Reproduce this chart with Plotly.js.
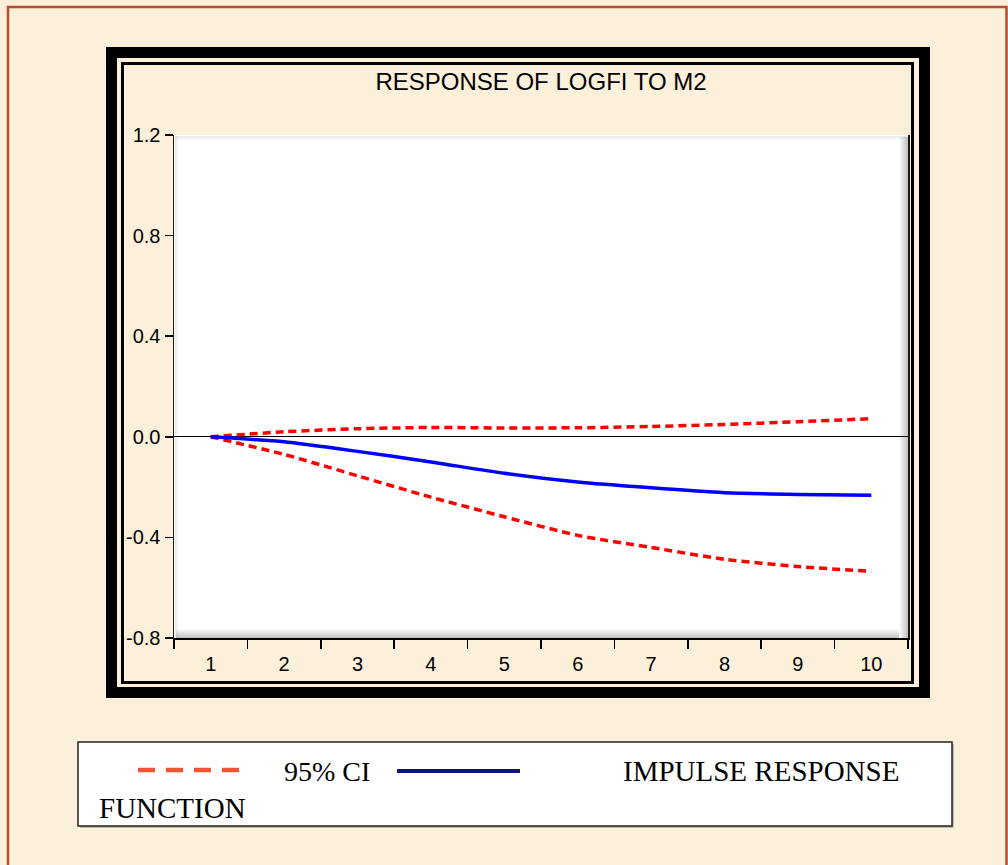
<!DOCTYPE html>
<html>
<head>
<meta charset="utf-8">
<script src="https://cdn.plot.ly/plotly-3.0.1.min.js"></script>
<style>
html,body{margin:0;padding:0;background:#FCF0DB;}
#chart{width:1008px;height:865px;}
</style>
</head>
<body>
<div id="chart"></div>
<script>
// ---- data ----
var periods = ["1","2","3","4","5","6","7","8","9","10"];
var impulseResponse = [0.0, -0.02, -0.058, -0.10, -0.145, -0.18, -0.203, -0.222, -0.229, -0.232];
var upperCI = [0.0, 0.02, 0.032, 0.037, 0.035, 0.036, 0.041, 0.049, 0.06, 0.072];
var lowerCI = [0.0, -0.07, -0.155, -0.24, -0.318, -0.392, -0.44, -0.487, -0.516, -0.535];
var yTickVals = [-0.8, -0.4, 0.0, 0.4, 0.8, 1.2];
var yTickText = ["-0.8", "-0.4", "0.0", "0.4", "0.8", "1.2"];
var chartTitle = "RESPONSE OF LOGFI TO M2";
var legendCI = "95% CI";
var legendIRF1 = "IMPULSE RESPONSE";
var legendIRF2 = "FUNCTION";

// ---- layout geometry (pixels) ----
var W = 1008, H = 865;
var L = 174, R = 908, T = 135, B = 638;
function xp(px){ return (px - L) / (R - L); }
function yp(py){ return (B - py) / (B - T); }

var traces = [
  {x: periods, y: upperCI, type: 'scatter', mode: 'lines', line: {color: '#FF0000', width: 3.5, dash: '8px,5px', shape: 'spline', smoothing: 0.6}, hoverinfo: 'skip'},
  {x: periods, y: lowerCI, type: 'scatter', mode: 'lines', line: {color: '#FF0000', width: 3.5, dash: '8px,5px', shape: 'spline', smoothing: 0.6}, hoverinfo: 'skip'},
  {x: periods, y: impulseResponse, type: 'scatter', mode: 'lines', line: {color: '#0000FF', width: 3.5, shape: 'spline', smoothing: 0.6}, hoverinfo: 'skip'}
];

var shapes = [];
function rect(x0,y0,x1,y1,opts){
  var s = {type:'rect', xref:'paper', yref:'paper', x0:xp(x0), x1:xp(x1), y0:yp(y0), y1:yp(y1), layer: opts.layer||'below',
    line:{width: opts.lw===undefined?0:opts.lw, color: opts.lc||'rgba(0,0,0,0)'}, fillcolor: opts.fill||'rgba(0,0,0,0)'};
  shapes.push(s);
}
function line(x0,y0,x1,y1,opts){
  shapes.push({type:'line', xref:'paper', yref:'paper', x0:xp(x0), x1:xp(x1), y0:yp(y0), y1:yp(y1), layer: opts.layer||'above',
    line:{width: opts.lw, color: opts.lc, dash: opts.dash||'solid'}});
}
// outer brown border
rect(8, 7, 1006.5, 880, {lw: 2.5, lc: '#B84A2E'});
// thick black frame
rect(111.5, 52.5, 924.5, 692.5, {lw: 11, lc: '#000000'});
// thin inner frame line
rect(122.5, 63.5, 912.5, 682.5, {lw: 3, lc: '#000000'});
// plot-area shadow (right & bottom)
for (var i = 0; i < 9; i++) {
  var a = 0.025 + 0.035 * i;
  rect(899 + i, 137, 900 + i, 638, {fill: 'rgba(60,60,60,' + a.toFixed(3) + ')'});
  rect(176, 629 + i, 899, 630 + i, {fill: 'rgba(60,60,60,' + a.toFixed(3) + ')'});
}
for (var j = 0; j < 4; j++) {
  var b = 0.10 - 0.025 * j;
  rect(175, 136 + j, 908, 137 + j, {fill: 'rgba(60,60,60,' + b.toFixed(3) + ')'});
  rect(175 + j, 136, 176 + j, 638, {fill: 'rgba(60,60,60,' + b.toFixed(3) + ')'});
}
// legend box with shadow
rect(80, 744, 954, 828, {fill: 'rgba(80,80,80,0.35)', layer: 'above'});
rect(78, 742, 952, 826, {lw: 1.5, lc: '#222222', fill: '#FFFFFF', layer: 'above'});
// legend samples
line(138, 770, 250, 770, {lw: 4.5, lc: '#EE5530', dash: '17px,11px'});
line(397, 771, 520, 771, {lw: 4, lc: '#10108A'});

var annotations = [
  {text: legendCI, xref:'paper', yref:'paper', x: xp(282), y: yp(771), xanchor:'left', yanchor:'middle', showarrow:false,
   font:{family:'Liberation Serif, Times New Roman, serif', size:28, color:'#000'}},
  {text: legendIRF1, xref:'paper', yref:'paper', x: xp(621), y: yp(771), xanchor:'left', yanchor:'middle', showarrow:false,
   font:{family:'Liberation Serif, Times New Roman, serif', size:29, color:'#000'}},
  {text: legendIRF2, xref:'paper', yref:'paper', x: xp(97), y: yp(808), xanchor:'left', yanchor:'middle', showarrow:false,
   font:{family:'Liberation Serif, Times New Roman, serif', size:29, color:'#000'}}
];

var layout = {
  width: W, height: H,
  margin: {l: L, r: W - R, t: T, b: H - B, pad: 0},
  paper_bgcolor: '#FCF0DB',
  plot_bgcolor: '#FFFFFF',
  showlegend: false,
  title: {text: chartTitle, x: 0.5, xref: 'paper', xanchor: 'center', y: 1 - 82 / H, yanchor: 'middle',
    font: {family: 'Liberation Sans, Arial, sans-serif', size: 24, color: '#000'}},
  xaxis: {
    type: 'category', range: [-0.5, 9.5], tickson: 'boundaries',
    ticks: 'outside', ticklen: 9, tickwidth: 1.5, tickcolor: '#000',
    showline: true, linecolor: '#000', linewidth: 2, mirror: false,
    showgrid: false, zeroline: false, fixedrange: true, ticklabelstandoff: 7,
    tickfont: {family: 'Liberation Sans, Arial, sans-serif', size: 20, color: '#000'}
  },
  yaxis: {
    range: [-0.8, 1.2], tickmode: 'array', tickvals: yTickVals, ticktext: yTickText,
    ticks: 'outside', ticklen: 8, tickwidth: 1.5, tickcolor: '#000',
    showline: true, linecolor: '#1a1a1a', linewidth: 1.5, mirror: true,
    showgrid: false, zeroline: true, zerolinecolor: '#000', zerolinewidth: 1, fixedrange: true,
    tickfont: {family: 'Liberation Sans, Arial, sans-serif', size: 20, color: '#000'}
  },
  shapes: shapes,
  annotations: annotations
};

Plotly.newPlot('chart', traces, layout, {displayModeBar: false, staticPlot: true});
</script>
</body>
</html>
